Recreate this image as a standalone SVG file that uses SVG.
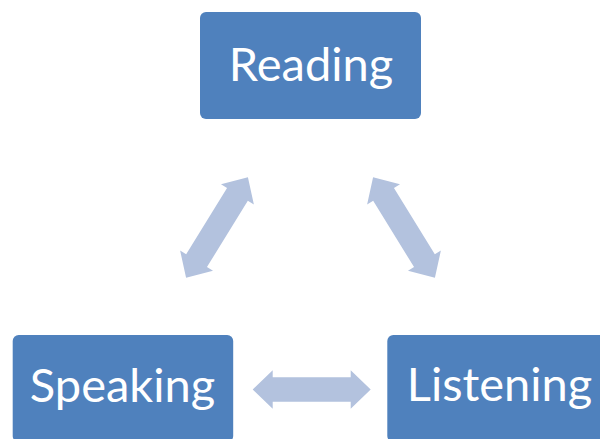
<svg xmlns="http://www.w3.org/2000/svg" width="600" height="439" viewBox="0 0 600 439">
<defs>
<style>
.box{fill:#4F81BD;}
.lbl{fill:#FFFFFF;font-family:Lato,"Open Sans","Liberation Sans",sans-serif;font-size:47px;text-anchor:middle;}
.arr{fill:#B3C2DE;}
</style>
<path id="dbl" d="M-59,0 L-39,-19.3 L-39,-12.2 L39,-12.2 L39,-19.3 L59,0 L39,19.3 L39,12.2 L-39,12.2 L-39,19.3 Z"/>
</defs>
<rect width="600" height="439" fill="#FFFFFF"/>
<g id="connectors" class="arr">
<use href="#dbl" transform="translate(217,227.5) rotate(-58.4)"/>
<use href="#dbl" transform="translate(404,227.5) rotate(58.4)"/>
<use href="#dbl" transform="translate(311.7,389.5)"/>
</g>
<g id="reading">
<rect class="box" x="200" y="12" width="221" height="107" rx="6"/>
<text class="lbl" x="311" y="81">Reading</text>
</g>
<g id="speaking">
<rect class="box" x="12.7" y="335" width="220.5" height="107" rx="6"/>
<text class="lbl" x="122.5" y="401.5">Speaking</text>
</g>
<g id="listening">
<rect class="box" x="387.3" y="335" width="221" height="107" rx="6"/>
<text class="lbl" x="499.5" y="401">Listening</text>
</g>
</svg>
